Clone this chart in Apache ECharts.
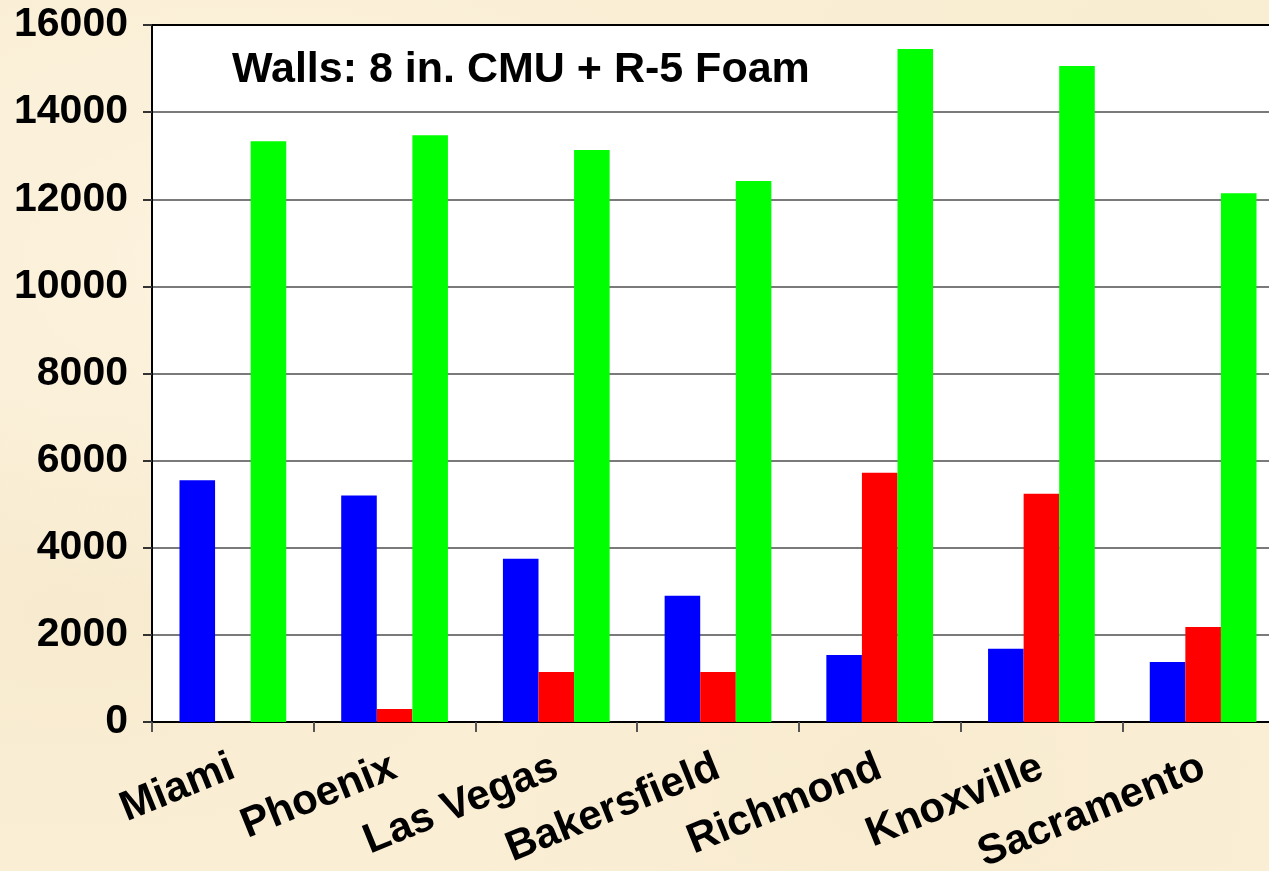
<!DOCTYPE html>
<html>
<head>
<meta charset="utf-8">
<script src="https://cdn.jsdelivr.net/npm/echarts@6/dist/echarts.min.js"></script>
<style>
  html, body { margin: 0; padding: 0; }
  body {
    width: 1269px; height: 871px; overflow: hidden;
    background-color: #FAEED5;
    background-image:
      radial-gradient(ellipse at 20% 30%, rgba(255,248,232,0.5), rgba(255,248,232,0) 40%),
      radial-gradient(ellipse at 70% 90%, rgba(244,230,198,0.35), rgba(244,230,198,0) 35%),
      radial-gradient(ellipse at 5% 70%, rgba(242,228,195,0.35), rgba(242,228,195,0) 30%),
      radial-gradient(ellipse at 90% 5%, rgba(247,234,202,0.4), rgba(247,234,202,0) 30%);
  }
  #chart { width: 1269px; height: 871px; }
</style>
</head>
<body>
<div id="chart"></div>
<script>
const categories = ['Miami', 'Phoenix', 'Las Vegas', 'Bakersfield', 'Richmond', 'Knoxville', 'Sacramento'];
const blueValues  = [5550, 5200, 3750, 2900, 1540, 1680, 1380];
const redValues   = [0, 300, 1150, 1150, 5720, 5240, 2180];
const greenValues = [13330, 13470, 13130, 12420, 15450, 15060, 12140];
const titleText = 'Walls: 8 in. CMU + R-5 Foam';

const fontFam = '"Liberation Sans", Arial, sans-serif';
const chart = echarts.init(document.getElementById('chart'), null, { renderer: 'canvas' });
const barStyle = (c) => ({ color: c });
const gridColors = ['#7a7a7a', '#7a7a7a', '#7a7a7a', '#7a7a7a', '#7a7a7a', '#7a7a7a', '#7a7a7a', '#7a7a7a', '#000000'];
chart.setOption({
  animation: false,
  backgroundColor: 'transparent',
  title: {
    text: titleText,
    left: 227, top: 44,
    textStyle: { fontFamily: fontFam, fontSize: 43, fontWeight: 'bold', color: '#000' }
  },
  grid: {
    left: 152, top: 25, width: 1132, height: 697,
    outerBoundsMode: 'none',
    show: true, backgroundColor: '#ffffff', borderColor: '#000', borderWidth: 2,
    containLabel: false
  },
  xAxis: {
    type: 'category',
    data: categories,
    axisLine: { lineStyle: { color: '#000', width: 2 } },
    axisTick: { show: true, length: 10, lineStyle: { color: '#555', width: 2 } },
    axisLabel: {
      rotate: 22, margin: 44, interval: 0,
      fontFamily: fontFam, fontSize: 42, fontWeight: 'bold', color: '#000'
    },
    splitLine: { show: false }
  },
  yAxis: {
    type: 'value',
    min: 0, max: 16000, interval: 2000,
    axisLine: { show: true, lineStyle: { color: '#000', width: 2 } },
    axisTick: { show: true, length: 9, lineStyle: { color: '#333', width: 2 } },
    axisLabel: {
      margin: 24, fontFamily: fontFam, fontSize: 41, fontWeight: 'bold', color: '#000',
      formatter: (v) => String(v)
    },
    splitLine: { show: true, lineStyle: { color: gridColors, width: 2 } }
  },
  series: [
    { name: 'Series 1', type: 'bar', data: blueValues, itemStyle: barStyle('#0000FF'),
      barGap: '0%', barCategoryGap: '34%' },
    { name: 'Series 2', type: 'bar', data: redValues, itemStyle: barStyle('#FF0000'),
      barGap: '0%', barCategoryGap: '34%' },
    { name: 'Series 3', type: 'bar', data: greenValues, itemStyle: barStyle('#00FF00'),
      barGap: '0%', barCategoryGap: '34%' }
  ]
});
</script>
</body>
</html>
